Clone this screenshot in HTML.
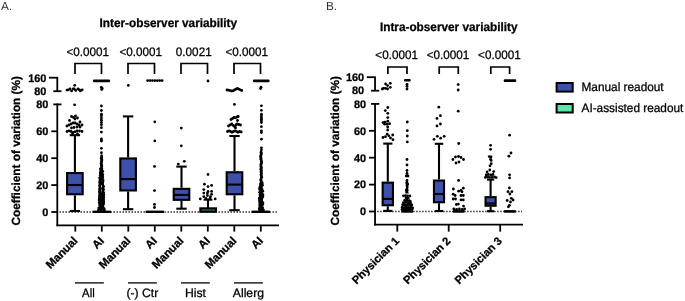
<!DOCTYPE html>
<html><head><meta charset="utf-8"><style>
html,body{margin:0;padding:0;background:#fff;width:685px;height:301px;overflow:hidden}
svg{display:block;font-family:"Liberation Sans", sans-serif;will-change:transform;text-rendering:geometricPrecision;filter:blur(0.35px)}
text{stroke:#000;stroke-width:0.28px}
</style></head><body>
<svg width="685" height="301" viewBox="0 0 685 301" font-family='"Liberation Sans", sans-serif'>
<rect width="685" height="301" fill="#fff"/>
<text x="1" y="10.3" font-size="11.8" font-weight="normal" text-anchor="start" fill="#333" style="stroke:none">A.</text>
<text transform="translate(168.30,27.00) scale(0.967,1)" font-size="12.2" font-weight="bold" text-anchor="middle" fill="#000" >Inter-observer variability</text>
<line x1="57.30" y1="77.70" x2="57.30" y2="91.20" stroke="#000" stroke-width="1.8"/>
<line x1="49.00" y1="77.70" x2="58.10" y2="77.70" stroke="#000" stroke-width="1.8"/>
<line x1="53.30" y1="91.20" x2="61.50" y2="91.20" stroke="#000" stroke-width="1.8"/>
<text x="46.4" y="81.6" font-size="10.9" font-weight="bold" text-anchor="end" fill="#000" >160</text>
<text x="46.4" y="94.9" font-size="10.9" font-weight="bold" text-anchor="end" fill="#000" >80</text>
<line x1="57.30" y1="103.60" x2="57.30" y2="226.20" stroke="#000" stroke-width="1.8"/>
<line x1="53.30" y1="104.40" x2="61.50" y2="104.40" stroke="#000" stroke-width="1.8"/>
<line x1="51.30" y1="131.30" x2="57.30" y2="131.30" stroke="#000" stroke-width="1.8"/>
<line x1="51.30" y1="158.20" x2="57.30" y2="158.20" stroke="#000" stroke-width="1.8"/>
<line x1="51.30" y1="185.10" x2="57.30" y2="185.10" stroke="#000" stroke-width="1.8"/>
<line x1="51.30" y1="212.00" x2="57.30" y2="212.00" stroke="#000" stroke-width="1.8"/>
<text x="48.3" y="108.2" font-size="10.9" font-weight="bold" text-anchor="end" fill="#000" >80</text>
<text x="48.3" y="135.10000000000002" font-size="10.9" font-weight="bold" text-anchor="end" fill="#000" >60</text>
<text x="48.3" y="162.0" font-size="10.9" font-weight="bold" text-anchor="end" fill="#000" >40</text>
<text x="48.3" y="188.9" font-size="10.9" font-weight="bold" text-anchor="end" fill="#000" >20</text>
<text x="48.3" y="215.8" font-size="10.9" font-weight="bold" text-anchor="end" fill="#000" >0</text>
<line x1="56.50" y1="225.40" x2="279.00" y2="225.40" stroke="#000" stroke-width="1.75"/>
<line x1="75.30" y1="225.40" x2="75.30" y2="231.60" stroke="#000" stroke-width="1.8"/>
<line x1="101.80" y1="225.40" x2="101.80" y2="231.60" stroke="#000" stroke-width="1.8"/>
<line x1="128.30" y1="225.40" x2="128.30" y2="231.60" stroke="#000" stroke-width="1.8"/>
<line x1="154.80" y1="225.40" x2="154.80" y2="231.60" stroke="#000" stroke-width="1.8"/>
<line x1="181.30" y1="225.40" x2="181.30" y2="231.60" stroke="#000" stroke-width="1.8"/>
<line x1="207.80" y1="225.40" x2="207.80" y2="231.60" stroke="#000" stroke-width="1.8"/>
<line x1="234.30" y1="225.40" x2="234.30" y2="231.60" stroke="#000" stroke-width="1.8"/>
<line x1="260.80" y1="225.40" x2="260.80" y2="231.60" stroke="#000" stroke-width="1.8"/>
<line x1="59.5" y1="212.0" x2="278.0" y2="212.0" stroke="#222" stroke-width="1.5" stroke-dasharray="1.4 1.6"/>
<text transform="translate(87.75,55.80) scale(0.96,1)" font-size="12.2" font-weight="normal" text-anchor="middle" fill="#000" >&lt;0.0001</text>
<polyline points="75.00,74 75.00,63.5 101.50,63.5 101.50,74" fill="none" stroke="#000" stroke-width="1.7"/>
<text transform="translate(140.75,55.80) scale(0.96,1)" font-size="12.2" font-weight="normal" text-anchor="middle" fill="#000" >&lt;0.0001</text>
<polyline points="128.00,74 128.00,63.5 154.50,63.5 154.50,74" fill="none" stroke="#000" stroke-width="1.7"/>
<text transform="translate(193.75,55.80) scale(0.96,1)" font-size="12.2" font-weight="normal" text-anchor="middle" fill="#000" >0.0021</text>
<polyline points="181.00,74 181.00,63.5 207.50,63.5 207.50,74" fill="none" stroke="#000" stroke-width="1.7"/>
<text transform="translate(246.75,55.80) scale(0.96,1)" font-size="12.2" font-weight="normal" text-anchor="middle" fill="#000" >&lt;0.0001</text>
<polyline points="234.00,74 234.00,63.5 260.50,63.5 260.50,74" fill="none" stroke="#000" stroke-width="1.7"/>
<text transform="translate(20.1,150.8) rotate(-90)" font-size="11.8" font-weight="bold" text-anchor="middle">Coefficient of variation (%)</text>
<text transform="translate(78.2,241.5) rotate(-45)" font-size="11.4" font-weight="bold" text-anchor="end">Manual</text>
<text transform="translate(104.7,241.5) rotate(-45)" font-size="11.4" font-weight="bold" text-anchor="end">AI</text>
<text transform="translate(131.2,241.5) rotate(-45)" font-size="11.4" font-weight="bold" text-anchor="end">Manual</text>
<text transform="translate(157.7,241.5) rotate(-45)" font-size="11.4" font-weight="bold" text-anchor="end">AI</text>
<text transform="translate(184.2,241.5) rotate(-45)" font-size="11.4" font-weight="bold" text-anchor="end">Manual</text>
<text transform="translate(210.7,241.5) rotate(-45)" font-size="11.4" font-weight="bold" text-anchor="end">AI</text>
<text transform="translate(237.2,241.5) rotate(-45)" font-size="11.4" font-weight="bold" text-anchor="end">Manual</text>
<text transform="translate(263.7,241.5) rotate(-45)" font-size="11.4" font-weight="bold" text-anchor="end">AI</text>
<line x1="75.00" y1="282.90" x2="103.80" y2="282.90" stroke="#000" stroke-width="1.3"/>
<text transform="translate(88.40,296.80) scale(0.93,1)" font-size="12.2" font-weight="normal" text-anchor="middle" fill="#000" >All</text>
<line x1="128.00" y1="282.90" x2="156.80" y2="282.90" stroke="#000" stroke-width="1.3"/>
<text x="142.4" y="296.8" font-size="12.2" font-weight="normal" text-anchor="middle" fill="#000" >(-) Ctr</text>
<line x1="181.00" y1="282.90" x2="209.80" y2="282.90" stroke="#000" stroke-width="1.3"/>
<text x="195.4" y="296.8" font-size="12.2" font-weight="normal" text-anchor="middle" fill="#000" >Hist</text>
<line x1="234.00" y1="282.90" x2="262.80" y2="282.90" stroke="#000" stroke-width="1.3"/>
<text x="248.4" y="296.8" font-size="12.2" font-weight="normal" text-anchor="middle" fill="#000" >Allerg</text>
<line x1="74.90" y1="135.20" x2="74.90" y2="172.00" stroke="#000" stroke-width="2.1"/>
<line x1="74.90" y1="195.30" x2="74.90" y2="211.00" stroke="#000" stroke-width="2.1"/>
<line x1="69.70" y1="135.20" x2="80.10" y2="135.20" stroke="#000" stroke-width="2.1"/>
<line x1="69.70" y1="211.00" x2="80.10" y2="211.00" stroke="#000" stroke-width="2.1"/>
<rect x="67.10" y="173.05" width="15.60" height="21.20" fill="#3e50ab" stroke="#000" stroke-width="2.1"/>
<line x1="67.10" y1="185.00" x2="82.70" y2="185.00" stroke="#000" stroke-width="2.1"/>
<line x1="128.10" y1="116.40" x2="128.10" y2="157.40" stroke="#000" stroke-width="2.1"/>
<line x1="128.10" y1="191.50" x2="128.10" y2="209.20" stroke="#000" stroke-width="2.1"/>
<line x1="122.90" y1="116.40" x2="133.30" y2="116.40" stroke="#000" stroke-width="2.1"/>
<line x1="122.90" y1="209.20" x2="133.30" y2="209.20" stroke="#000" stroke-width="2.1"/>
<rect x="120.30" y="158.45" width="15.60" height="32.00" fill="#3e50ab" stroke="#000" stroke-width="2.1"/>
<line x1="120.30" y1="179.10" x2="135.90" y2="179.10" stroke="#000" stroke-width="2.1"/>
<line x1="181.50" y1="166.60" x2="181.50" y2="187.80" stroke="#000" stroke-width="2.1"/>
<line x1="181.50" y1="200.90" x2="181.50" y2="208.70" stroke="#000" stroke-width="2.1"/>
<line x1="176.30" y1="166.60" x2="186.70" y2="166.60" stroke="#000" stroke-width="2.1"/>
<line x1="176.30" y1="208.70" x2="186.70" y2="208.70" stroke="#000" stroke-width="2.1"/>
<rect x="173.70" y="188.85" width="15.60" height="11.00" fill="#3e50ab" stroke="#000" stroke-width="2.1"/>
<line x1="173.70" y1="194.90" x2="189.30" y2="194.90" stroke="#000" stroke-width="2.1"/>
<line x1="234.50" y1="136.00" x2="234.50" y2="171.20" stroke="#000" stroke-width="2.1"/>
<line x1="234.50" y1="195.30" x2="234.50" y2="210.20" stroke="#000" stroke-width="2.1"/>
<line x1="229.30" y1="136.00" x2="239.70" y2="136.00" stroke="#000" stroke-width="2.1"/>
<line x1="229.30" y1="210.20" x2="239.70" y2="210.20" stroke="#000" stroke-width="2.1"/>
<rect x="226.70" y="172.25" width="15.60" height="22.00" fill="#3e50ab" stroke="#000" stroke-width="2.1"/>
<line x1="226.70" y1="184.60" x2="242.30" y2="184.60" stroke="#000" stroke-width="2.1"/>
<rect x="92.60" y="210.6" width="18.4" height="2.4" fill="#000"/>
<rect x="145.60" y="210.6" width="18.4" height="2.4" fill="#000"/>
<rect x="251.60" y="210.6" width="18.4" height="2.4" fill="#000"/>
<line x1="208.00" y1="199.70" x2="208.00" y2="208.00" stroke="#000" stroke-width="2"/>
<line x1="203.60" y1="199.70" x2="212.40" y2="199.70" stroke="#000" stroke-width="2"/>
<rect x="200.35000000000002" y="208.35000000000002" width="15.6" height="3.4" fill="#2d6b55" stroke="#000" stroke-width="2.1"/>
<g fill="#000">
<circle cx="74.7" cy="85.3" r="1.4"/>
<circle cx="67.0" cy="90.1" r="1.4"/>
<circle cx="68.4" cy="89.8" r="1.4"/>
<circle cx="70.0" cy="89.0" r="1.4"/>
<circle cx="71.6" cy="90.9" r="1.4"/>
<circle cx="73.2" cy="88.8" r="1.4"/>
<circle cx="74.2" cy="89.0" r="1.4"/>
<circle cx="75.8" cy="90.4" r="1.4"/>
<circle cx="78.0" cy="88.8" r="1.4"/>
<circle cx="79.3" cy="89.8" r="1.4"/>
<circle cx="80.4" cy="90.9" r="1.4"/>
<circle cx="82.2" cy="89.8" r="1.4"/>
<circle cx="74.6" cy="104.8" r="1.4"/>
<circle cx="71.5" cy="116.5" r="1.4"/>
<circle cx="73.5" cy="117.5" r="1.4"/>
<circle cx="75.5" cy="116.0" r="1.4"/>
<circle cx="77.5" cy="118.0" r="1.4"/>
<circle cx="75.0" cy="119.0" r="1.4"/>
<circle cx="69.5" cy="120.5" r="1.4"/>
<circle cx="80.0" cy="122.0" r="1.4"/>
<circle cx="67.0" cy="126.0" r="1.4"/>
<circle cx="69.0" cy="125.0" r="1.4"/>
<circle cx="71.0" cy="124.0" r="1.4"/>
<circle cx="73.0" cy="123.0" r="1.4"/>
<circle cx="75.0" cy="123.0" r="1.4"/>
<circle cx="77.0" cy="124.0" r="1.4"/>
<circle cx="79.0" cy="125.0" r="1.4"/>
<circle cx="82.0" cy="125.0" r="1.4"/>
<circle cx="71.5" cy="128.0" r="1.4"/>
<circle cx="74.0" cy="127.5" r="1.4"/>
<circle cx="77.0" cy="127.0" r="1.4"/>
<circle cx="80.0" cy="127.0" r="1.4"/>
<circle cx="67.0" cy="131.5" r="1.4"/>
<circle cx="69.0" cy="130.8" r="1.4"/>
<circle cx="71.0" cy="131.5" r="1.4"/>
<circle cx="73.0" cy="132.5" r="1.4"/>
<circle cx="75.0" cy="131.8" r="1.4"/>
<circle cx="77.0" cy="131.0" r="1.4"/>
<circle cx="79.5" cy="131.0" r="1.4"/>
<circle cx="82.0" cy="131.5" r="1.4"/>
<circle cx="72.5" cy="134.0" r="1.4"/>
<circle cx="77.5" cy="134.0" r="1.4"/>
<rect x="92.9" y="79.4" width="17.3" height="2.9" rx="1.4"/>
<circle cx="101.3" cy="87.3" r="1.4"/>
<circle cx="102.2" cy="88.4" r="1.4"/>
<circle cx="101.7" cy="89.6" r="1.4"/>
<circle cx="101.4" cy="106.0" r="1.4"/>
<circle cx="101.4" cy="110.5" r="1.4"/>
<circle cx="101.4" cy="114.2" r="1.4"/>
<circle cx="101.4" cy="115.7" r="1.4"/>
<circle cx="101.4" cy="118.0" r="1.4"/>
<circle cx="101.4" cy="120.2" r="1.4"/>
<circle cx="101.4" cy="122.4" r="1.4"/>
<circle cx="101.4" cy="124.7" r="1.4"/>
<circle cx="101.4" cy="127.7" r="1.4"/>
<circle cx="101.4" cy="132.1" r="1.4"/>
<circle cx="101.4" cy="138.9" r="1.4"/>
<circle cx="101.4" cy="140.7" r="1.4"/>
<circle cx="101.4" cy="141.0" r="1.4"/>
<circle cx="101.4" cy="148.3" r="1.4"/>
<circle cx="101.4" cy="152.7" r="1.4"/>
<circle cx="101.6" cy="155.7" r="1.35"/>
<circle cx="101.7" cy="156.9" r="1.35"/>
<circle cx="101.7" cy="157.8" r="1.35"/>
<circle cx="101.2" cy="158.5" r="1.35"/>
<circle cx="101.8" cy="159.6" r="1.35"/>
<circle cx="101.8" cy="160.2" r="1.35"/>
<circle cx="101.5" cy="161.3" r="1.35"/>
<circle cx="101.5" cy="162.6" r="1.35"/>
<circle cx="101.1" cy="163.3" r="1.35"/>
<circle cx="101.3" cy="164.8" r="1.35"/>
<circle cx="101.7" cy="165.2" r="1.35"/>
<circle cx="101.7" cy="166.2" r="1.35"/>
<circle cx="101.6" cy="167.2" r="1.35"/>
<circle cx="100.3" cy="168.8" r="1.35"/>
<circle cx="101.7" cy="168.3" r="1.35"/>
<circle cx="101.5" cy="169.8" r="1.35"/>
<circle cx="101.9" cy="169.9" r="1.35"/>
<circle cx="100.9" cy="170.6" r="1.35"/>
<circle cx="101.8" cy="170.9" r="1.35"/>
<circle cx="101.0" cy="171.9" r="1.35"/>
<circle cx="102.7" cy="171.3" r="1.35"/>
<circle cx="100.5" cy="172.2" r="1.35"/>
<circle cx="101.9" cy="172.2" r="1.35"/>
<circle cx="100.4" cy="173.6" r="1.35"/>
<circle cx="101.8" cy="173.6" r="1.35"/>
<circle cx="100.4" cy="174.3" r="1.35"/>
<circle cx="102.8" cy="174.5" r="1.35"/>
<circle cx="100.3" cy="175.5" r="1.35"/>
<circle cx="102.7" cy="175.1" r="1.35"/>
<circle cx="101.1" cy="176.1" r="1.35"/>
<circle cx="102.8" cy="176.8" r="1.35"/>
<circle cx="99.9" cy="177.7" r="1.35"/>
<circle cx="102.4" cy="177.6" r="1.35"/>
<circle cx="99.8" cy="178.1" r="1.35"/>
<circle cx="102.2" cy="178.9" r="1.35"/>
<circle cx="100.0" cy="179.7" r="1.35"/>
<circle cx="103.1" cy="179.9" r="1.35"/>
<circle cx="100.2" cy="180.4" r="1.35"/>
<circle cx="102.7" cy="180.7" r="1.35"/>
<circle cx="99.8" cy="181.7" r="1.35"/>
<circle cx="103.0" cy="181.8" r="1.35"/>
<circle cx="99.7" cy="182.9" r="1.35"/>
<circle cx="102.2" cy="182.4" r="1.35"/>
<circle cx="100.4" cy="183.8" r="1.35"/>
<circle cx="102.6" cy="183.8" r="1.35"/>
<circle cx="100.3" cy="184.3" r="1.35"/>
<circle cx="102.6" cy="184.2" r="1.35"/>
<circle cx="99.7" cy="185.2" r="1.35"/>
<circle cx="103.1" cy="185.9" r="1.35"/>
<circle cx="99.7" cy="186.1" r="1.35"/>
<circle cx="103.5" cy="186.5" r="1.35"/>
<circle cx="100.0" cy="187.3" r="1.35"/>
<circle cx="103.0" cy="187.8" r="1.35"/>
<circle cx="100.0" cy="188.4" r="1.35"/>
<circle cx="102.4" cy="188.8" r="1.35"/>
<circle cx="99.5" cy="189.5" r="1.35"/>
<circle cx="103.4" cy="189.2" r="1.35"/>
<circle cx="100.2" cy="190.9" r="1.35"/>
<circle cx="103.2" cy="190.7" r="1.35"/>
<circle cx="99.4" cy="191.4" r="1.35"/>
<circle cx="102.7" cy="191.8" r="1.35"/>
<circle cx="99.6" cy="192.5" r="1.35"/>
<circle cx="103.7" cy="192.8" r="1.35"/>
<circle cx="100.4" cy="193.5" r="1.35"/>
<circle cx="101.5" cy="193.7" r="1.35"/>
<circle cx="103.2" cy="193.3" r="1.35"/>
<circle cx="99.7" cy="194.2" r="1.35"/>
<circle cx="101.4" cy="194.9" r="1.35"/>
<circle cx="103.8" cy="194.6" r="1.35"/>
<circle cx="99.7" cy="195.4" r="1.35"/>
<circle cx="101.0" cy="195.3" r="1.35"/>
<circle cx="103.6" cy="195.8" r="1.35"/>
<circle cx="99.5" cy="196.7" r="1.35"/>
<circle cx="101.8" cy="196.7" r="1.35"/>
<circle cx="103.5" cy="196.7" r="1.35"/>
<circle cx="99.5" cy="197.7" r="1.35"/>
<circle cx="101.2" cy="197.5" r="1.35"/>
<circle cx="103.7" cy="197.7" r="1.35"/>
<circle cx="99.3" cy="198.9" r="1.35"/>
<circle cx="101.7" cy="198.6" r="1.35"/>
<circle cx="102.8" cy="198.5" r="1.35"/>
<circle cx="99.2" cy="199.6" r="1.35"/>
<circle cx="101.5" cy="199.8" r="1.35"/>
<circle cx="103.7" cy="199.7" r="1.35"/>
<circle cx="99.3" cy="200.6" r="1.35"/>
<circle cx="101.8" cy="200.8" r="1.35"/>
<circle cx="103.3" cy="200.8" r="1.35"/>
<circle cx="100.0" cy="201.7" r="1.35"/>
<circle cx="102.1" cy="201.9" r="1.35"/>
<circle cx="103.5" cy="201.5" r="1.35"/>
<circle cx="99.2" cy="202.8" r="1.35"/>
<circle cx="102.0" cy="202.5" r="1.35"/>
<circle cx="103.6" cy="202.7" r="1.35"/>
<circle cx="100.0" cy="203.2" r="1.35"/>
<circle cx="101.8" cy="203.6" r="1.35"/>
<circle cx="103.5" cy="203.4" r="1.35"/>
<circle cx="100.0" cy="204.7" r="1.35"/>
<circle cx="103.3" cy="204.7" r="1.35"/>
<circle cx="99.8" cy="205.2" r="1.35"/>
<circle cx="102.6" cy="205.6" r="1.35"/>
<circle cx="100.4" cy="206.6" r="1.35"/>
<circle cx="102.4" cy="206.1" r="1.35"/>
<circle cx="99.8" cy="207.3" r="1.35"/>
<circle cx="101.0" cy="207.2" r="1.35"/>
<circle cx="103.0" cy="207.2" r="1.35"/>
<circle cx="98.7" cy="208.1" r="1.35"/>
<circle cx="101.5" cy="208.4" r="1.35"/>
<circle cx="104.1" cy="208.6" r="1.35"/>
<circle cx="98.6" cy="209.8" r="1.35"/>
<circle cx="100.9" cy="209.4" r="1.35"/>
<circle cx="103.8" cy="209.4" r="1.35"/>
<circle cx="98.4" cy="210.8" r="1.35"/>
<circle cx="101.3" cy="210.1" r="1.35"/>
<circle cx="104.3" cy="210.2" r="1.35"/>
<circle cx="128.3" cy="85.4" r="1.4"/>
<circle cx="147.7" cy="80.6" r="1.4"/>
<circle cx="150.1" cy="80.6" r="1.4"/>
<circle cx="152.5" cy="80.6" r="1.4"/>
<circle cx="154.9" cy="80.6" r="1.4"/>
<circle cx="157.3" cy="80.6" r="1.4"/>
<circle cx="159.7" cy="80.6" r="1.4"/>
<circle cx="162.1" cy="80.6" r="1.4"/>
<circle cx="154.8" cy="121.8" r="1.4"/>
<circle cx="154.8" cy="140.9" r="1.4"/>
<circle cx="154.5" cy="166.4" r="1.4"/>
<circle cx="154.5" cy="190.6" r="1.4"/>
<circle cx="154.5" cy="204.4" r="1.4"/>
<circle cx="154.5" cy="207.5" r="1.4"/>
<circle cx="181.3" cy="128.1" r="1.4"/>
<circle cx="181.3" cy="145.8" r="1.4"/>
<circle cx="178.3" cy="164.1" r="1.4"/>
<circle cx="184.3" cy="161.3" r="1.4"/>
<circle cx="208.0" cy="81.0" r="1.4"/>
<circle cx="208.0" cy="174.5" r="1.4"/>
<circle cx="204.4" cy="184.2" r="1.4"/>
<circle cx="208.0" cy="186.6" r="1.4"/>
<circle cx="211.6" cy="185.4" r="1.4"/>
<circle cx="203.8" cy="189.6" r="1.4"/>
<circle cx="208.0" cy="191.4" r="1.4"/>
<circle cx="211.6" cy="191.4" r="1.4"/>
<circle cx="203.8" cy="193.1" r="1.4"/>
<circle cx="207.4" cy="193.1" r="1.4"/>
<circle cx="211.6" cy="194.3" r="1.4"/>
<circle cx="203.8" cy="196.7" r="1.4"/>
<circle cx="207.4" cy="195.5" r="1.4"/>
<circle cx="210.4" cy="196.7" r="1.4"/>
<circle cx="200.3" cy="198.9" r="1.4"/>
<circle cx="215.2" cy="198.9" r="1.4"/>
<circle cx="206.0" cy="198.5" r="1.4"/>
<circle cx="210.0" cy="198.5" r="1.4"/>
<circle cx="227.0" cy="90.0" r="1.4"/>
<circle cx="228.5" cy="90.2" r="1.4"/>
<circle cx="230.0" cy="90.6" r="1.4"/>
<circle cx="231.5" cy="91.0" r="1.4"/>
<circle cx="233.0" cy="90.8" r="1.4"/>
<circle cx="234.5" cy="90.0" r="1.4"/>
<circle cx="236.0" cy="89.2" r="1.4"/>
<circle cx="237.4" cy="88.4" r="1.4"/>
<circle cx="238.8" cy="89.2" r="1.4"/>
<circle cx="240.3" cy="89.8" r="1.4"/>
<circle cx="241.7" cy="90.5" r="1.4"/>
<circle cx="234.4" cy="104.4" r="1.4"/>
<circle cx="231.0" cy="119.5" r="1.4"/>
<circle cx="232.6" cy="118.5" r="1.4"/>
<circle cx="234.0" cy="117.5" r="1.4"/>
<circle cx="235.5" cy="117.8" r="1.4"/>
<circle cx="237.0" cy="117.0" r="1.4"/>
<circle cx="238.2" cy="116.5" r="1.4"/>
<circle cx="237.5" cy="120.5" r="1.4"/>
<circle cx="228.5" cy="126.0" r="1.4"/>
<circle cx="230.0" cy="125.0" r="1.4"/>
<circle cx="231.7" cy="124.0" r="1.4"/>
<circle cx="233.0" cy="125.3" r="1.4"/>
<circle cx="234.5" cy="126.5" r="1.4"/>
<circle cx="236.0" cy="125.0" r="1.4"/>
<circle cx="237.0" cy="124.0" r="1.4"/>
<circle cx="238.8" cy="124.5" r="1.4"/>
<circle cx="240.5" cy="125.0" r="1.4"/>
<circle cx="235.5" cy="128.0" r="1.4"/>
<circle cx="227.5" cy="131.5" r="1.4"/>
<circle cx="229.0" cy="130.8" r="1.4"/>
<circle cx="230.5" cy="131.5" r="1.4"/>
<circle cx="232.0" cy="132.3" r="1.4"/>
<circle cx="233.5" cy="131.5" r="1.4"/>
<circle cx="235.0" cy="130.8" r="1.4"/>
<circle cx="236.5" cy="131.5" r="1.4"/>
<circle cx="238.0" cy="132.3" r="1.4"/>
<circle cx="239.5" cy="131.5" r="1.4"/>
<circle cx="241.2" cy="132.0" r="1.4"/>
<rect x="252.9" y="79.5" width="16.7" height="2.8" rx="1.2"/>
<circle cx="260.6" cy="88.6" r="1.4"/>
<circle cx="261.0" cy="87.2" r="1.4"/>
<circle cx="261.4" cy="105.8" r="1.4"/>
<circle cx="261.4" cy="110.3" r="1.4"/>
<circle cx="261.4" cy="114.2" r="1.4"/>
<circle cx="261.4" cy="115.8" r="1.4"/>
<circle cx="261.4" cy="117.5" r="1.4"/>
<circle cx="261.4" cy="119.2" r="1.4"/>
<circle cx="261.4" cy="120.8" r="1.4"/>
<circle cx="261.4" cy="122.5" r="1.4"/>
<circle cx="261.4" cy="126.7" r="1.4"/>
<circle cx="261.4" cy="130.8" r="1.4"/>
<circle cx="261.4" cy="132.5" r="1.4"/>
<circle cx="261.4" cy="139.2" r="1.4"/>
<circle cx="261.4" cy="147.8" r="1.4"/>
<circle cx="261.4" cy="150.1" r="1.4"/>
<circle cx="261.0" cy="152.2" r="1.35"/>
<circle cx="261.3" cy="153.2" r="1.35"/>
<circle cx="261.2" cy="154.4" r="1.35"/>
<circle cx="260.8" cy="155.5" r="1.35"/>
<circle cx="260.8" cy="156.4" r="1.35"/>
<circle cx="260.8" cy="157.2" r="1.35"/>
<circle cx="261.1" cy="158.8" r="1.35"/>
<circle cx="260.8" cy="159.3" r="1.35"/>
<circle cx="261.3" cy="160.9" r="1.35"/>
<circle cx="261.3" cy="161.4" r="1.35"/>
<circle cx="261.7" cy="162.1" r="1.35"/>
<circle cx="261.5" cy="163.3" r="1.35"/>
<circle cx="260.9" cy="164.2" r="1.35"/>
<circle cx="261.0" cy="165.8" r="1.35"/>
<circle cx="260.9" cy="166.6" r="1.35"/>
<circle cx="261.3" cy="167.4" r="1.35"/>
<circle cx="261.2" cy="168.2" r="1.35"/>
<circle cx="260.8" cy="169.3" r="1.35"/>
<circle cx="261.4" cy="170.4" r="1.35"/>
<circle cx="261.0" cy="171.6" r="1.35"/>
<circle cx="261.2" cy="172.3" r="1.35"/>
<circle cx="261.5" cy="173.7" r="1.35"/>
<circle cx="261.0" cy="174.6" r="1.35"/>
<circle cx="261.2" cy="175.8" r="1.35"/>
<circle cx="261.4" cy="176.3" r="1.35"/>
<circle cx="261.7" cy="177.2" r="1.35"/>
<circle cx="261.1" cy="178.7" r="1.35"/>
<circle cx="260.9" cy="179.5" r="1.35"/>
<circle cx="260.8" cy="180.6" r="1.35"/>
<circle cx="261.5" cy="181.6" r="1.35"/>
<circle cx="261.2" cy="182.4" r="1.35"/>
<circle cx="262.1" cy="182.6" r="1.35"/>
<circle cx="260.7" cy="183.5" r="1.35"/>
<circle cx="262.3" cy="183.9" r="1.35"/>
<circle cx="260.5" cy="184.6" r="1.35"/>
<circle cx="261.1" cy="184.7" r="1.35"/>
<circle cx="260.8" cy="185.9" r="1.35"/>
<circle cx="262.4" cy="185.3" r="1.35"/>
<circle cx="260.3" cy="186.6" r="1.35"/>
<circle cx="261.1" cy="186.5" r="1.35"/>
<circle cx="259.9" cy="187.2" r="1.35"/>
<circle cx="261.2" cy="187.7" r="1.35"/>
<circle cx="259.8" cy="188.3" r="1.35"/>
<circle cx="261.8" cy="188.8" r="1.35"/>
<circle cx="259.7" cy="189.5" r="1.35"/>
<circle cx="262.1" cy="189.8" r="1.35"/>
<circle cx="260.8" cy="190.8" r="1.35"/>
<circle cx="261.7" cy="190.4" r="1.35"/>
<circle cx="260.1" cy="191.8" r="1.35"/>
<circle cx="262.8" cy="191.2" r="1.35"/>
<circle cx="259.7" cy="192.3" r="1.35"/>
<circle cx="261.7" cy="192.5" r="1.35"/>
<circle cx="260.4" cy="193.3" r="1.35"/>
<circle cx="261.4" cy="193.4" r="1.35"/>
<circle cx="260.0" cy="194.6" r="1.35"/>
<circle cx="263.0" cy="194.7" r="1.35"/>
<circle cx="260.2" cy="195.6" r="1.35"/>
<circle cx="262.5" cy="195.1" r="1.35"/>
<circle cx="260.8" cy="196.7" r="1.35"/>
<circle cx="262.9" cy="196.7" r="1.35"/>
<circle cx="259.9" cy="197.4" r="1.35"/>
<circle cx="261.7" cy="197.6" r="1.35"/>
<circle cx="259.4" cy="198.2" r="1.35"/>
<circle cx="261.9" cy="198.2" r="1.35"/>
<circle cx="259.8" cy="199.1" r="1.35"/>
<circle cx="261.6" cy="199.2" r="1.35"/>
<circle cx="259.4" cy="200.4" r="1.35"/>
<circle cx="261.6" cy="200.8" r="1.35"/>
<circle cx="260.2" cy="201.2" r="1.35"/>
<circle cx="262.0" cy="201.4" r="1.35"/>
<circle cx="259.8" cy="202.2" r="1.35"/>
<circle cx="263.0" cy="202.9" r="1.35"/>
<circle cx="259.9" cy="203.5" r="1.35"/>
<circle cx="261.8" cy="203.2" r="1.35"/>
<circle cx="260.0" cy="204.3" r="1.35"/>
<circle cx="262.7" cy="204.2" r="1.35"/>
<circle cx="259.7" cy="205.9" r="1.35"/>
<circle cx="262.0" cy="205.2" r="1.35"/>
<circle cx="261.2" cy="206.1" r="1.35"/>
<circle cx="260.4" cy="207.9" r="1.35"/>
<circle cx="262.6" cy="207.7" r="1.35"/>
<circle cx="259.2" cy="208.4" r="1.35"/>
<circle cx="262.3" cy="208.7" r="1.35"/>
<circle cx="259.5" cy="209.7" r="1.35"/>
<circle cx="260.9" cy="209.3" r="1.35"/>
<circle cx="263.4" cy="209.9" r="1.35"/>
<circle cx="259.9" cy="210.7" r="1.35"/>
<circle cx="261.7" cy="210.7" r="1.35"/>
<circle cx="262.6" cy="210.5" r="1.35"/>
</g>
<text x="326" y="10.3" font-size="11.8" font-weight="normal" text-anchor="start" fill="#333" style="stroke:none">B.</text>
<text transform="translate(448.70,31.10) scale(0.967,1)" font-size="12.2" font-weight="bold" text-anchor="middle" fill="#000" >Intra-observer variability</text>
<line x1="375.05" y1="77.20" x2="375.05" y2="90.70" stroke="#000" stroke-width="1.8"/>
<line x1="366.75" y1="77.20" x2="375.85" y2="77.20" stroke="#000" stroke-width="1.8"/>
<line x1="371.05" y1="90.70" x2="379.25" y2="90.70" stroke="#000" stroke-width="1.8"/>
<text x="364.15000000000003" y="81.1" font-size="10.9" font-weight="bold" text-anchor="end" fill="#000" >160</text>
<text x="364.15000000000003" y="94.4" font-size="10.9" font-weight="bold" text-anchor="end" fill="#000" >80</text>
<line x1="375.05" y1="103.10" x2="375.05" y2="225.50" stroke="#000" stroke-width="1.8"/>
<line x1="371.05" y1="103.90" x2="379.25" y2="103.90" stroke="#000" stroke-width="1.8"/>
<line x1="369.05" y1="130.80" x2="375.05" y2="130.80" stroke="#000" stroke-width="1.8"/>
<line x1="369.05" y1="157.70" x2="375.05" y2="157.70" stroke="#000" stroke-width="1.8"/>
<line x1="369.05" y1="184.60" x2="375.05" y2="184.60" stroke="#000" stroke-width="1.8"/>
<line x1="369.05" y1="211.50" x2="375.05" y2="211.50" stroke="#000" stroke-width="1.8"/>
<text x="366.05" y="107.7" font-size="10.9" font-weight="bold" text-anchor="end" fill="#000" >80</text>
<text x="366.05" y="134.60000000000002" font-size="10.9" font-weight="bold" text-anchor="end" fill="#000" >60</text>
<text x="366.05" y="161.5" font-size="10.9" font-weight="bold" text-anchor="end" fill="#000" >40</text>
<text x="366.05" y="188.4" font-size="10.9" font-weight="bold" text-anchor="end" fill="#000" >20</text>
<text x="366.05" y="215.3" font-size="10.9" font-weight="bold" text-anchor="end" fill="#000" >0</text>
<line x1="374.25" y1="224.70" x2="523.00" y2="224.70" stroke="#000" stroke-width="1.75"/>
<line x1="397.30" y1="224.70" x2="397.30" y2="231.60" stroke="#000" stroke-width="1.8"/>
<line x1="448.70" y1="224.70" x2="448.70" y2="231.60" stroke="#000" stroke-width="1.8"/>
<line x1="500.20" y1="224.70" x2="500.20" y2="231.60" stroke="#000" stroke-width="1.8"/>
<line x1="377.2" y1="211.5" x2="522.0" y2="211.5" stroke="#222" stroke-width="1.5" stroke-dasharray="1.4 1.6"/>
<text transform="translate(338.8,150.8) rotate(-90)" font-size="11.8" font-weight="bold" text-anchor="middle">Coefficient of variation (%)</text>
<text transform="translate(396.65,58.90) scale(0.96,1)" font-size="12.2" font-weight="normal" text-anchor="middle" fill="#000" >&lt;0.0001</text>
<polyline points="387.90,74 387.90,67 407.00,67 407.00,74" fill="none" stroke="#000" stroke-width="1.7"/>
<text transform="translate(447.95,58.90) scale(0.96,1)" font-size="12.2" font-weight="normal" text-anchor="middle" fill="#000" >&lt;0.0001</text>
<polyline points="439.20,74 439.20,67 458.30,67 458.30,74" fill="none" stroke="#000" stroke-width="1.7"/>
<text transform="translate(499.40,58.90) scale(0.96,1)" font-size="12.2" font-weight="normal" text-anchor="middle" fill="#000" >&lt;0.0001</text>
<polyline points="490.80,74 490.80,67 509.60,67 509.60,74" fill="none" stroke="#000" stroke-width="1.7"/>
<text transform="translate(399.8,241.5) rotate(-45)" font-size="11.15" font-weight="bold" text-anchor="end">Physician 1</text>
<text transform="translate(451.2,241.5) rotate(-45)" font-size="11.15" font-weight="bold" text-anchor="end">Physician 2</text>
<text transform="translate(502.7,241.5) rotate(-45)" font-size="11.15" font-weight="bold" text-anchor="end">Physician 3</text>
<line x1="387.80" y1="143.60" x2="387.80" y2="181.60" stroke="#000" stroke-width="2.1"/>
<line x1="387.80" y1="206.30" x2="387.80" y2="210.90" stroke="#000" stroke-width="2.1"/>
<line x1="383.20" y1="143.60" x2="392.40" y2="143.60" stroke="#000" stroke-width="2.1"/>
<line x1="383.20" y1="210.90" x2="392.40" y2="210.90" stroke="#000" stroke-width="2.1"/>
<rect x="382.65" y="182.65" width="10.30" height="22.60" fill="#3e50ab" stroke="#000" stroke-width="2.1"/>
<line x1="382.65" y1="198.90" x2="392.95" y2="198.90" stroke="#000" stroke-width="2.1"/>
<line x1="439.00" y1="143.80" x2="439.00" y2="179.50" stroke="#000" stroke-width="2.1"/>
<line x1="439.00" y1="203.30" x2="439.00" y2="211.00" stroke="#000" stroke-width="2.1"/>
<line x1="434.80" y1="143.80" x2="443.20" y2="143.80" stroke="#000" stroke-width="2.1"/>
<line x1="434.80" y1="211.00" x2="443.20" y2="211.00" stroke="#000" stroke-width="2.1"/>
<rect x="433.95" y="180.55" width="10.10" height="21.70" fill="#3e50ab" stroke="#000" stroke-width="2.1"/>
<line x1="433.95" y1="194.00" x2="444.05" y2="194.00" stroke="#000" stroke-width="2.1"/>
<line x1="490.60" y1="179.60" x2="490.60" y2="196.10" stroke="#000" stroke-width="2.1"/>
<line x1="490.60" y1="206.80" x2="490.60" y2="211.20" stroke="#000" stroke-width="2.1"/>
<line x1="487.00" y1="179.60" x2="494.20" y2="179.60" stroke="#000" stroke-width="2.1"/>
<line x1="487.00" y1="211.20" x2="494.20" y2="211.20" stroke="#000" stroke-width="2.1"/>
<rect x="485.55" y="197.15" width="10.10" height="8.60" fill="#3e50ab" stroke="#000" stroke-width="2.1"/>
<line x1="485.55" y1="203.40" x2="495.65" y2="203.40" stroke="#000" stroke-width="2.1"/>
<rect x="401.50" y="210.1" width="11.6" height="2.6" fill="#000"/>
<rect x="452.80" y="210.1" width="11.6" height="2.6" fill="#000"/>
<rect x="504.10" y="210.1" width="11.6" height="2.6" fill="#000"/>
<g fill="#000">
<circle cx="390.3" cy="83.3" r="1.4"/>
<circle cx="385.6" cy="84.0" r="1.4"/>
<circle cx="387.6" cy="85.6" r="1.4"/>
<circle cx="390.3" cy="87.3" r="1.4"/>
<circle cx="383.6" cy="88.3" r="1.4"/>
<circle cx="385.6" cy="88.3" r="1.4"/>
<circle cx="387.6" cy="89.0" r="1.4"/>
<circle cx="382.3" cy="89.0" r="1.4"/>
<circle cx="387.8" cy="107.5" r="1.4"/>
<circle cx="385.3" cy="110.6" r="1.4"/>
<circle cx="387.8" cy="113.3" r="1.4"/>
<circle cx="387.8" cy="117.6" r="1.4"/>
<circle cx="383.0" cy="122.6" r="1.4"/>
<circle cx="385.0" cy="122.2" r="1.4"/>
<circle cx="387.8" cy="121.2" r="1.4"/>
<circle cx="389.6" cy="123.7" r="1.4"/>
<circle cx="384.7" cy="124.2" r="1.4"/>
<circle cx="387.2" cy="124.2" r="1.4"/>
<circle cx="387.7" cy="127.0" r="1.4"/>
<circle cx="387.7" cy="130.0" r="1.4"/>
<circle cx="387.2" cy="134.2" r="1.4"/>
<circle cx="383.0" cy="137.5" r="1.4"/>
<circle cx="385.5" cy="136.7" r="1.4"/>
<circle cx="388.8" cy="135.8" r="1.4"/>
<circle cx="392.7" cy="135.0" r="1.4"/>
<circle cx="390.5" cy="138.0" r="1.4"/>
<circle cx="393.0" cy="139.7" r="1.4"/>
<rect x="404" y="79" width="6.7" height="2.6" rx="1"/>
<circle cx="407.0" cy="84.3" r="1.4"/>
<circle cx="407.0" cy="86.3" r="1.4"/>
<circle cx="407.0" cy="89.0" r="1.4"/>
<circle cx="407.3" cy="122.0" r="1.4"/>
<circle cx="407.3" cy="130.7" r="1.4"/>
<circle cx="407.3" cy="136.0" r="1.4"/>
<circle cx="407.3" cy="141.9" r="1.4"/>
<circle cx="407.0" cy="159.5" r="1.4"/>
<circle cx="407.0" cy="165.0" r="1.4"/>
<circle cx="407.0" cy="170.5" r="1.4"/>
<circle cx="407.0" cy="173.5" r="1.4"/>
<circle cx="406.3" cy="176.0" r="1.4"/>
<circle cx="408.0" cy="176.0" r="1.4"/>
<circle cx="407.0" cy="180.5" r="1.4"/>
<circle cx="406.8" cy="182.5" r="1.4"/>
<circle cx="407.6" cy="184.5" r="1.4"/>
<path d="M406.0,183.0 L405.8,184.3 L405.5,185.6 L406.1,186.9 L405.8,188.2 L405.0,189.5 L405.1,190.8 L405.3,192.1 L405.3,193.4 L409.0,193.4 L408.2,192.1 L408.5,190.8 L408.5,189.5 L408.2,188.2 L408.7,186.9 L407.9,185.6 L408.4,184.3 L408.3,183.0 Z"/>
<circle cx="407.0" cy="183.0" r="1.5"/>
<circle cx="403.5" cy="195.8" r="1.4"/>
<circle cx="405.5" cy="195.6" r="1.4"/>
<circle cx="407.5" cy="195.8" r="1.4"/>
<circle cx="409.8" cy="196.0" r="1.4"/>
<circle cx="406.0" cy="198.0" r="1.4"/>
<circle cx="408.0" cy="198.2" r="1.4"/>
<circle cx="404.6" cy="200.4" r="1.4"/>
<circle cx="406.8" cy="200.2" r="1.4"/>
<circle cx="409.0" cy="200.6" r="1.4"/>
<circle cx="410.2" cy="201.2" r="1.4"/>
<circle cx="403.4" cy="202.6" r="1.4"/>
<circle cx="405.6" cy="202.4" r="1.4"/>
<circle cx="408.0" cy="202.8" r="1.4"/>
<circle cx="410.5" cy="202.9" r="1.4"/>
<circle cx="402.6" cy="204.8" r="1.4"/>
<circle cx="404.5" cy="205.3" r="1.4"/>
<circle cx="407.6" cy="204.9" r="1.4"/>
<circle cx="409.9" cy="205.2" r="1.4"/>
<circle cx="411.8" cy="205.0" r="1.4"/>
<circle cx="402.2" cy="207.2" r="1.4"/>
<circle cx="405.8" cy="207.0" r="1.4"/>
<circle cx="408.3" cy="207.4" r="1.4"/>
<circle cx="411.2" cy="207.3" r="1.4"/>
<circle cx="403.3" cy="209.2" r="1.4"/>
<circle cx="405.2" cy="209.4" r="1.4"/>
<circle cx="407.4" cy="209.0" r="1.4"/>
<circle cx="409.6" cy="209.3" r="1.4"/>
<circle cx="412.3" cy="209.1" r="1.4"/>
<circle cx="406.5" cy="202.0" r="1.4"/>
<circle cx="404.0" cy="204.0" r="1.4"/>
<circle cx="408.8" cy="204.0" r="1.4"/>
<circle cx="406.0" cy="205.5" r="1.4"/>
<circle cx="403.8" cy="207.8" r="1.4"/>
<circle cx="407.0" cy="208.0" r="1.4"/>
<circle cx="410.0" cy="208.0" r="1.4"/>
<circle cx="412.6" cy="207.8" r="1.4"/>
<circle cx="402.0" cy="209.5" r="1.4"/>
<circle cx="406.2" cy="210.0" r="1.4"/>
<circle cx="409.0" cy="210.0" r="1.4"/>
<circle cx="438.8" cy="107.2" r="1.4"/>
<circle cx="437.0" cy="118.4" r="1.4"/>
<circle cx="440.4" cy="115.7" r="1.4"/>
<circle cx="437.0" cy="125.9" r="1.4"/>
<circle cx="440.4" cy="124.0" r="1.4"/>
<circle cx="434.0" cy="139.3" r="1.4"/>
<circle cx="437.3" cy="136.3" r="1.4"/>
<circle cx="440.7" cy="138.2" r="1.4"/>
<circle cx="444.2" cy="136.3" r="1.4"/>
<circle cx="458.2" cy="84.6" r="1.4"/>
<circle cx="458.2" cy="90.0" r="1.4"/>
<circle cx="458.2" cy="111.2" r="1.4"/>
<circle cx="458.7" cy="143.5" r="1.4"/>
<circle cx="452.9" cy="159.5" r="1.4"/>
<circle cx="455.5" cy="157.0" r="1.4"/>
<circle cx="458.5" cy="156.5" r="1.4"/>
<circle cx="461.0" cy="157.5" r="1.4"/>
<circle cx="463.5" cy="159.5" r="1.4"/>
<circle cx="456.0" cy="163.0" r="1.4"/>
<circle cx="459.0" cy="162.0" r="1.4"/>
<circle cx="458.6" cy="180.4" r="1.4"/>
<circle cx="453.4" cy="189.0" r="1.4"/>
<circle cx="458.6" cy="191.2" r="1.4"/>
<circle cx="461.0" cy="190.3" r="1.4"/>
<circle cx="463.3" cy="188.2" r="1.4"/>
<circle cx="462.0" cy="191.8" r="1.4"/>
<circle cx="453.2" cy="194.2" r="1.4"/>
<circle cx="455.1" cy="195.5" r="1.4"/>
<circle cx="461.0" cy="195.5" r="1.4"/>
<circle cx="463.3" cy="195.5" r="1.4"/>
<circle cx="453.2" cy="199.0" r="1.4"/>
<circle cx="455.5" cy="199.0" r="1.4"/>
<circle cx="461.0" cy="199.9" r="1.4"/>
<circle cx="463.3" cy="199.9" r="1.4"/>
<circle cx="456.4" cy="204.5" r="1.4"/>
<circle cx="458.4" cy="204.1" r="1.4"/>
<circle cx="463.5" cy="206.1" r="1.4"/>
<circle cx="453.8" cy="208.9" r="1.4"/>
<circle cx="456.6" cy="209.3" r="1.4"/>
<circle cx="459.4" cy="208.9" r="1.4"/>
<circle cx="462.2" cy="209.3" r="1.4"/>
<circle cx="464.6" cy="209.0" r="1.4"/>
<circle cx="490.6" cy="145.3" r="1.4"/>
<circle cx="490.6" cy="149.3" r="1.4"/>
<circle cx="489.3" cy="156.6" r="1.4"/>
<circle cx="491.0" cy="157.0" r="1.4"/>
<circle cx="490.6" cy="159.3" r="1.4"/>
<circle cx="491.2" cy="160.4" r="1.4"/>
<circle cx="491.2" cy="163.7" r="1.4"/>
<circle cx="490.0" cy="165.8" r="1.4"/>
<circle cx="489.8" cy="170.0" r="1.4"/>
<circle cx="487.1" cy="172.0" r="1.4"/>
<circle cx="493.7" cy="171.6" r="1.4"/>
<circle cx="486.2" cy="175.0" r="1.4"/>
<circle cx="488.3" cy="174.5" r="1.4"/>
<circle cx="490.8" cy="175.0" r="1.4"/>
<circle cx="492.9" cy="174.5" r="1.4"/>
<circle cx="485.4" cy="177.4" r="1.4"/>
<circle cx="487.5" cy="177.0" r="1.4"/>
<circle cx="489.5" cy="177.4" r="1.4"/>
<circle cx="492.0" cy="177.4" r="1.4"/>
<circle cx="494.5" cy="177.0" r="1.4"/>
<circle cx="496.2" cy="177.6" r="1.4"/>
<rect x="503.7" y="79.3" width="12.5" height="2.6" rx="1"/>
<circle cx="509.6" cy="135.2" r="1.4"/>
<circle cx="511.0" cy="153.0" r="1.4"/>
<circle cx="508.9" cy="156.2" r="1.4"/>
<circle cx="509.6" cy="174.8" r="1.4"/>
<circle cx="509.6" cy="177.9" r="1.4"/>
<circle cx="509.4" cy="188.0" r="1.4"/>
<circle cx="508.0" cy="191.7" r="1.4"/>
<circle cx="511.9" cy="191.7" r="1.4"/>
<circle cx="509.9" cy="194.0" r="1.4"/>
<circle cx="511.3" cy="198.3" r="1.4"/>
<circle cx="507.2" cy="200.5" r="1.4"/>
<circle cx="513.1" cy="200.0" r="1.4"/>
<circle cx="510.5" cy="202.0" r="1.4"/>
<circle cx="509.4" cy="205.3" r="1.4"/>
<circle cx="508.4" cy="206.8" r="1.4"/>
</g>
<rect x="556.6" y="83" width="16.1" height="8.6" fill="#3e50ab" stroke="#000" stroke-width="2"/>
<rect x="556.6" y="104" width="16.1" height="8.5" fill="#5ee6a8" stroke="#000" stroke-width="2"/>
<text transform="translate(581.50,91.20) scale(0.97,1)" font-size="12.2" font-weight="normal" text-anchor="start" fill="#000" >Manual readout</text>
<text transform="translate(581.50,112.10) scale(0.97,1)" font-size="12.2" font-weight="normal" text-anchor="start" fill="#000" >AI-assisted readout</text>
</svg>
</body></html>
